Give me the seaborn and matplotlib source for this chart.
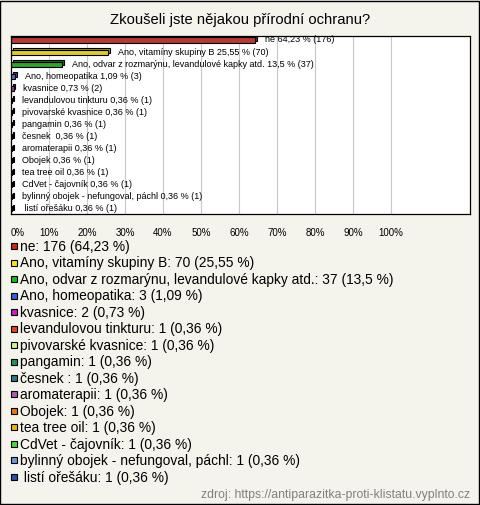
import matplotlib
matplotlib.use("Agg")
import matplotlib.pyplot as plt
import matplotlib.transforms as mtransforms
from matplotlib.lines import Line2D
import seaborn as sns
import pandas as pd

# data
answers = ["ne", "Ano, vitamíny skupiny B",
           "Ano, odvar z rozmarýnu, levandulové kapky atd.",
           "Ano, homeopatika", "kvasnice", "levandulovou tinkturu",
           "pivovarské kvasnice", "pangamin", "česnek ", "aromaterapii",
           "Obojek", "tea tree oil", "CdVet - čajovník",
           "bylinný obojek - nefungoval, páchl", " listí ořešáku"]
counts = [176, 70, 37, 3, 2, 1, 1, 1, 1, 1, 1, 1, 1, 1, 1]
percents = [64.23, 25.55, 13.5, 1.09, 0.73, 0.36, 0.36, 0.36, 0.36, 0.36,
            0.36, 0.36, 0.36, 0.36, 0.36]
colors = ["#c8281e", "#f5e11e", "#1eb41e", "#3c5fd7", "#c81ec8", "#e1461e",
          "#c8f596", "#1e965a", "#287887", "#b45ab4", "#e17819", "#e6b40a",
          "#4bd73c", "#6e96dc", "#2d50a5"]
ticks = [0, 10, 20, 30, 40, 50, 60, 70, 80, 90, 100]

bg = "#f4f4ec"
plt.rcParams["font.family"] = ["Liberation Sans", "DejaVu Sans"]

df = pd.DataFrame({"answer": answers, "count": counts, "pct": percents})

fig = plt.figure(figsize=(4.8, 5.05), dpi=100, facecolor=bg)
ax = fig.add_axes([11 / 480, 1 - 214 / 505, 459 / 480, 178 / 505])
ax.set_facecolor("white")

# darker copy behind, shifted up-right, for the 3d look
dark = [tuple(v * 0.7 for v in sns.color_palette([c])[0]) for c in colors]
sns.barplot(data=df, x="pct", y="answer", hue="answer", palette=dark,
            legend=False, orient="h", width=0.42, edgecolor="black",
            linewidth=0.8, ax=ax)
n_shadow = len(ax.patches)
shift = mtransforms.offset_copy(ax.transData, fig=fig, x=1.5, y=1.5,
                                units="dots")
for p in ax.patches[:n_shadow]:
    p.set_transform(shift)

sns.barplot(data=df, x="pct", y="answer", hue="answer", palette=colors,
            legend=False, orient="h", width=0.42, edgecolor="black",
            linewidth=0.8, ax=ax)

ax.set_xlim(0, 120.8)
ax.set_ylim(14.42, -0.33)
ax.set_xticks(ticks)
ax.set_xticklabels([f"{t}%" for t in ticks], fontsize=7)
ax.tick_params(axis="x", length=0, pad=10)
ax.set_yticks([])
ax.set_xlabel("")
ax.set_ylabel("")
ax.grid(axis="x", color="#c8c8c8", linewidth=0.8)
ax.set_axisbelow(True)
for s in ax.spines.values():
    s.set_color("black")
    s.set_linewidth(0.9)
ax.get_xticklabels()[0].set_horizontalalignment("left")

for i, (name, c, p) in enumerate(zip(answers, counts, percents)):
    txt = f"{name} {str(p).replace('.', ',')} % ({c})"
    ax.annotate(txt, xy=(p, i), xytext=(7, 0), textcoords="offset points",
                va="center", ha="left", fontsize=6.5)

fig.text(0.5, 1 - 20 / 505, "Zkoušeli jste nějakou přírodní ochranu?",
         ha="center", va="center", fontsize=10.6)

handles = [Line2D([], [], marker="s", linestyle="none", markersize=5,
                  markerfacecolor=col, markeredgecolor="black",
                  markeredgewidth=0.8) for col in colors]
leg_labels = [f"{n}: {c} ({str(p).replace('.', ',')} %)"
              for n, c, p in zip(answers, counts, percents)]
fig.legend(handles, leg_labels, loc="upper left",
           bbox_to_anchor=(9 / 480, 1 - 240 / 505), frameon=False,
           fontsize=9.9, handlelength=0.7, handletextpad=0.1,
           labelspacing=0.18, borderpad=0, borderaxespad=0)

fig.text(470 / 480, 1 - 495 / 505,
         "zdroj: https://antiparazitka-proti-klistatu.vyplnto.cz",
         ha="right", va="center", fontsize=8.8, color="#808080")

fig.patches.append(plt.Rectangle((0.001, 0.001), 0.997, 0.997,
                                 transform=fig.transFigure, fill=False,
                                 edgecolor="black", linewidth=1))

fig.savefig("out.png", dpi=100, facecolor=bg)
